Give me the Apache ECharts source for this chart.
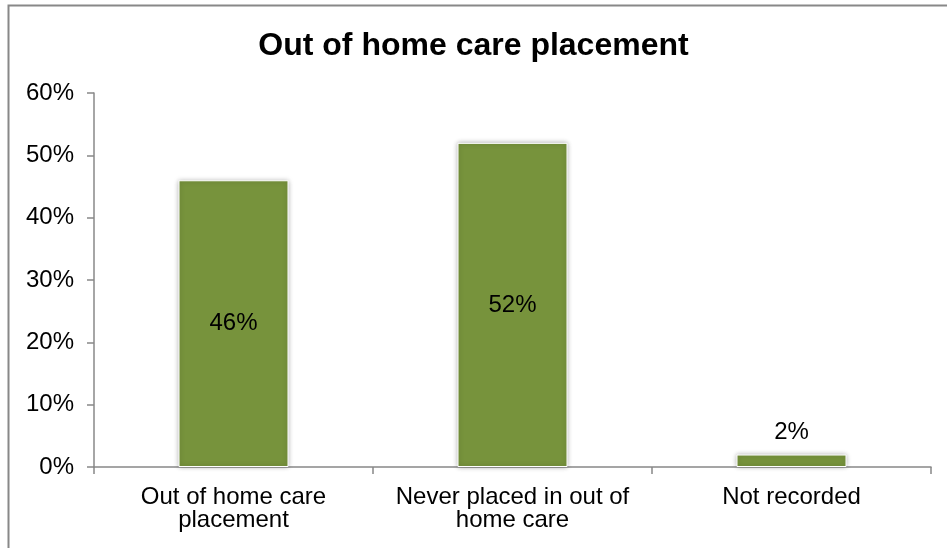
<!DOCTYPE html>
<html><head><meta charset="utf-8">
<script src="https://cdn.jsdelivr.net/npm/echarts@6/dist/echarts.min.js"></script>
<style>html,body{margin:0;padding:0;background:#fff}#c{width:947px;height:548px}</style>
</head><body><div id="c"></div>
<script>
const categories = ['Out of home care\nplacement', 'Never placed in out of\nhome care', 'Not recorded'];
const values = [46, 52, 2];
const yTicks = [0, 10, 20, 30, 40, 50, 60];

const chart = echarts.init(document.getElementById('c'));
chart.setOption({
  animation: false,
  textStyle: { fontFamily: 'Liberation Sans, Arial, sans-serif' },
  title: {
    text: 'Out of home care placement', left: 'center', top: 25,
    textStyle: { fontFamily: 'Liberation Sans, Arial, sans-serif', fontSize: 32, fontWeight: 'bold', color: '#000' }
  },
  graphic: [{
    type: 'rect', shape: { x: 8.5, y: 5.5, width: 960, height: 560 },
    style: { fill: 'none', stroke: '#888', lineWidth: 2 }, silent: true, z: -1
  }],
  grid: { left: 94, right: 16, top: 93, bottom: 81 },
  xAxis: {
    type: 'category', data: categories,
    axisLine: { lineStyle: { color: '#888', width: 1.5 } },
    axisTick: { show: true, length: 7, lineStyle: { color: '#888', width: 1.5 }, interval: 0 },
    axisLabel: { color: '#000', fontSize: 24, lineHeight: 23, margin: 19, interval: 0 }
  },
  yAxis: {
    type: 'value', min: 0, max: 60, interval: 10,
    axisLine: { show: true, lineStyle: { color: '#888', width: 1.5 } },
    axisTick: { show: true, length: 7, lineStyle: { color: '#888', width: 1.5 } },
    splitLine: { show: false },
    axisLabel: { color: '#000', fontSize: 24, margin: 20, formatter: v => v + '%' }
  },
  series: [{
    type: 'bar', barWidth: 110,
    data: values.map((v, i) => i === 2 ? { value: v, label: { position: 'top', distance: 10 } } : v),
    itemStyle: { color: '#77933C', borderColor: '#fff', borderWidth: 1, shadowBlur: 5, shadowColor: 'rgba(0,0,0,0.3)' },
    label: {
      show: true, color: '#000', fontSize: 24,
      formatter: p => p.value + '%',
      position: 'inside'
    }
  }]
});
</script></body></html>
